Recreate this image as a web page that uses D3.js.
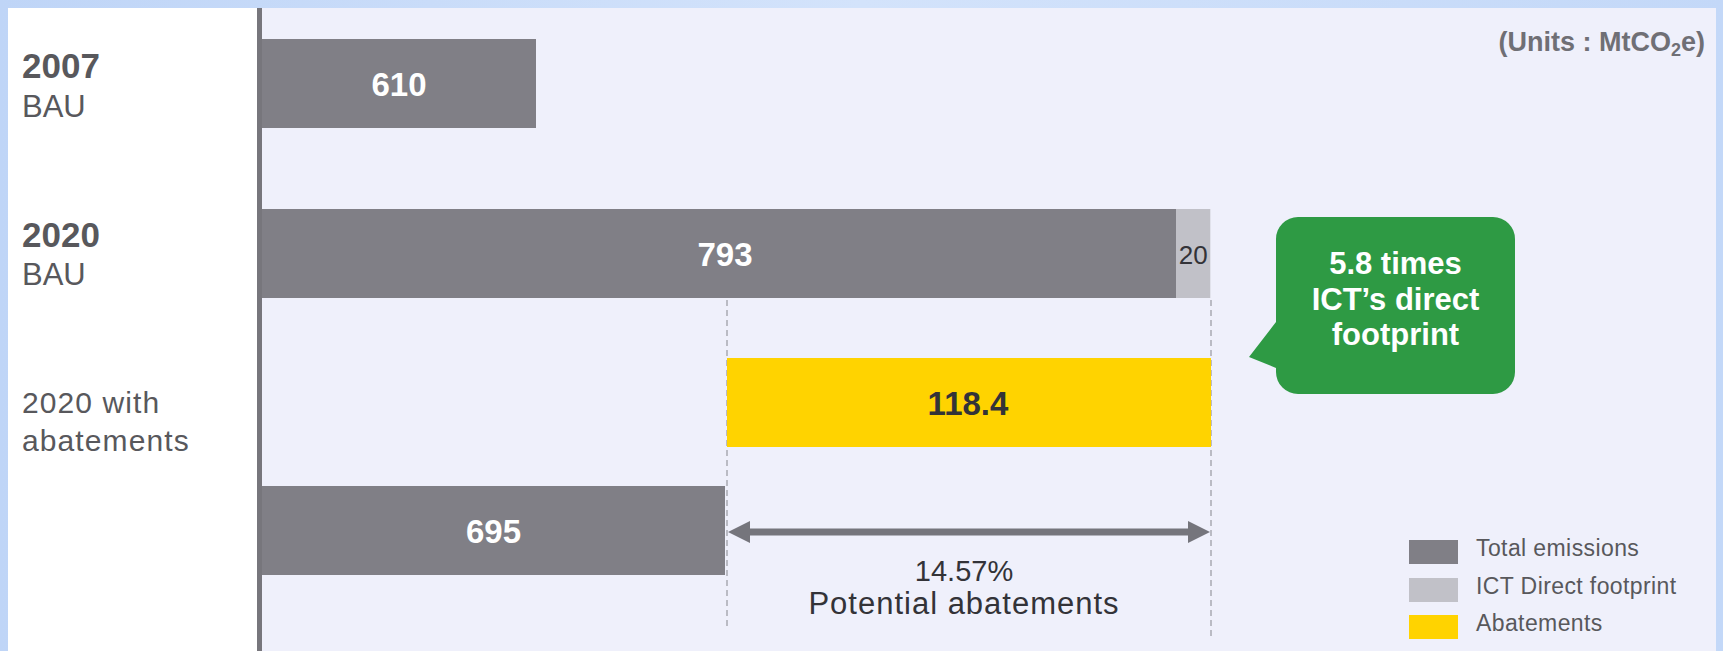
<!DOCTYPE html>
<html><head><meta charset="utf-8">
<script src="https://cdn.jsdelivr.net/npm/d3@7"></script>
<style>html,body{margin:0;padding:0;background:#c8dcf8;overflow:hidden}</style>
</head><body><svg id="chart" width="1723" height="651"></svg>
<script>
// ---- data ----
const rowKeys = ["2007 BAU", "2020 BAU", "Abatements", "2020 with abatements"];
const totalEmissions = [610, 793, 0, 695];
const ictDirect = [0, 20, 0, 0];
const abatementValues = [0, 0, 118.4, 0];
const abatementBase = 695;
const categoryLines = [["2007", "BAU"], ["2020", "BAU"], ["2020 with", "abatements"]];
const potentialLabel = ["14.57%", "Potential abatements"];
const calloutLines = ["5.8 times", "ICT\u2019s direct", "footprint"];
const legendLabels = ["Total emissions", "ICT Direct footprint", "Abatements"];
const unitsLabel = ["(Units : MtCO", "2", "e)"];

// ---- style ----
const W = 1723, H = 651;
const C = { frame: "#c8dcf8", label: "#ffffff", plot: "#eff0fb", axis: "#77767c",
  total: "#807f86", ict: "#c1c1c8", abate: "#ffd300", text: "#58585c", dark: "#333338",
  green: "#2e9a44", dash: "#a9a9b2", arrow: "#75757c" };
const FONT = "'Liberation Sans', Arial, Helvetica, sans-serif";

const svg = d3.select("#chart").attr("font-family", FONT);

// background frame & panels
const grad = svg.append("defs").append("linearGradient").attr("id", "fr").attr("x1", 0).attr("x2", 1);
grad.append("stop").attr("offset", 0).attr("stop-color", "#bfd5f7");
grad.append("stop").attr("offset", 0.5).attr("stop-color", "#d3e3fb");
grad.append("stop").attr("offset", 1).attr("stop-color", "#c3d8f8");
svg.append("rect").attr("width", W).attr("height", H).attr("fill", "url(#fr)");
svg.append("rect").attr("x", 8).attr("y", 8).attr("width", 250).attr("height", H - 8).attr("fill", C.label);
svg.append("rect").attr("x", 258).attr("y", 8).attr("width", 1716 - 258).attr("height", H - 8).attr("fill", C.plot);

// ---- scales ----
// schematic (not-to-scale) value axis: piecewise linear through the chart's own totals
const stops = [0, totalEmissions[0], abatementBase, totalEmissions[1], abatementBase + abatementValues[2]];
const x = d3.scaleLinear().domain(stops).range([262, 536, 725, 1176, 1211]);
const y = d3.scaleOrdinal().domain(rowKeys).range([39, 209, 358, 486]);
const bh = 89;

// axis line
svg.append("line").attr("x1", 259.5).attr("x2", 259.5).attr("y1", 8).attr("y2", H)
  .attr("stroke", C.axis).attr("stroke-width", 5);

const rows = rowKeys.map((k, i) => ({ key: k, total: totalEmissions[i], ict: ictDirect[i], abate: abatementValues[i] }));

// dashed guide lines
const xl = x(abatementBase) + 2, xr = x(abatementBase + abatementValues[2]);
svg.append("line").attr("x1", xl).attr("x2", xl).attr("y1", y(rowKeys[1]) + bh + 2).attr("y2", 630)
  .attr("stroke", C.dash).attr("stroke-width", 1.5).attr("stroke-dasharray", "6,4");
svg.append("line").attr("x1", xr).attr("x2", xr).attr("y1", y(rowKeys[1]) + bh + 2).attr("y2", 640)
  .attr("stroke", C.dash).attr("stroke-width", 1.5).attr("stroke-dasharray", "6,4");

// bars
const g = svg.append("g");
g.selectAll("rect.total").data(rows.filter(d => d.total > 0)).join("rect").attr("class", "total")
  .attr("x", x(0)).attr("y", d => y(d.key)).attr("width", d => x(d.total) - x(0)).attr("height", bh)
  .attr("fill", C.total);
g.selectAll("rect.ict").data(rows.filter(d => d.ict > 0)).join("rect").attr("class", "ict")
  .attr("x", d => x(d.total)).attr("y", d => y(d.key)).attr("width", d => x(d.total + d.ict) - x(d.total)).attr("height", bh)
  .attr("fill", C.ict);
g.selectAll("rect.abate").data(rows.filter(d => d.abate > 0)).join("rect").attr("class", "abate")
  .attr("x", x(abatementBase) + 2).attr("y", d => y(d.key)).attr("width", d => x(abatementBase + d.abate) - x(abatementBase) - 2).attr("height", bh)
  .attr("fill", C.abate);

// bar labels
g.selectAll("text.tl").data(rows.filter(d => d.total > 0)).join("text").attr("class", "tl")
  .attr("x", d => (x(0) + x(d.total)) / 2 + (d.ict > 0 ? 6 : 0)).attr("y", d => y(d.key) + bh / 2 + 12)
  .attr("text-anchor", "middle").attr("font-size", 33).attr("font-weight", "bold").attr("fill", "#fff")
  .text(d => d3.format("d")(d.total));
g.selectAll("text.il").data(rows.filter(d => d.ict > 0)).join("text").attr("class", "il")
  .attr("x", d => (x(d.total) + x(d.total + d.ict)) / 2).attr("y", d => y(d.key) + bh / 2 + 10)
  .attr("text-anchor", "middle").attr("font-size", 26).attr("fill", C.dark)
  .text(d => d.ict);
g.selectAll("text.al").data(rows.filter(d => d.abate > 0)).join("text").attr("class", "al")
  .attr("x", d => (x(abatementBase) + x(abatementBase + d.abate)) / 2).attr("y", d => y(d.key) + bh / 2 + 12)
  .attr("text-anchor", "middle").attr("font-size", 33).attr("font-weight", "bold").attr("fill", C.dark)
  .text(d => d.abate);

// category labels
const catAnchor = [y(rowKeys[0]), y(rowKeys[1]), y(rowKeys[2])];
const catOff = [[39, 78], [38, 76], [55, 93]];
categoryLines.forEach((lines, i) => {
  lines.forEach((t, j) => {
    const bold = i < 2 && j === 0;
    svg.append("text").attr("x", 22).attr("y", catAnchor[i] + catOff[i][j])
      .attr("font-size", bold ? 35 : (i < 2 ? 31 : 30))
      .attr("font-weight", bold ? "bold" : "normal")
      .attr("letter-spacing", i === 2 ? 1.1 : 0)
      .attr("fill", C.text).text(t);
  });
});

// double arrow
const ay = y(rowKeys[3]) + 46;
const aL = x(abatementBase) + 3, aR = xr - 1, ah = 22, aw = 11;
svg.append("line").attr("x1", aL + ah - 2).attr("x2", aR - ah + 2).attr("y1", ay).attr("y2", ay)
  .attr("stroke", C.arrow).attr("stroke-width", 7);
svg.append("path").attr("d", `M${aL},${ay}L${aL + ah},${ay - aw}L${aL + ah},${ay + aw}Z`).attr("fill", C.arrow);
svg.append("path").attr("d", `M${aR},${ay}L${aR - ah},${ay - aw}L${aR - ah},${ay + aw}Z`).attr("fill", C.arrow);

const mid = (aL + aR) / 2 - 5;
svg.append("text").attr("x", mid).attr("y", 581).attr("text-anchor", "middle")
  .attr("font-size", 29).attr("fill", C.dark).text(potentialLabel[0]);
svg.append("text").attr("x", mid).attr("y", 614).attr("text-anchor", "middle")
  .attr("font-size", 31).attr("letter-spacing", 1).attr("fill", C.dark).text(potentialLabel[1]);

// callout
const bx0 = 1276, bx1 = 1515, by0 = 217, by1 = 394, r = 22;
const p = d3.path();
p.moveTo(bx0 + r, by0); p.lineTo(bx1 - r, by0); p.arcTo(bx1, by0, bx1, by0 + r, r);
p.lineTo(bx1, by1 - r); p.arcTo(bx1, by1, bx1 - r, by1, r);
p.lineTo(bx0 + r, by1); p.arcTo(bx0, by1, bx0, by1 - r, r);
p.lineTo(bx0, 368); p.lineTo(1249, 357); p.lineTo(bx0, 322);
p.lineTo(bx0, by0 + r); p.arcTo(bx0, by0, bx0 + r, by0, r); p.closePath();
svg.append("path").attr("d", p.toString()).attr("fill", C.green);
const cy = [274, 310, 345];
calloutLines.forEach((t, i) => {
  svg.append("text").attr("x", (bx0 + bx1) / 2).attr("y", cy[i]).attr("text-anchor", "middle")
    .attr("font-size", 31).attr("font-weight", "bold").attr("fill", "#fff").text(t);
});

// units
const ut = svg.append("text").attr("x", 1705).attr("y", 51).attr("text-anchor", "end")
  .attr("font-size", 27).attr("font-weight", "bold").attr("fill", "#6f6f75");
ut.append("tspan").text(unitsLabel[0]);
ut.append("tspan").attr("font-size", 18).attr("dy", 5).text(unitsLabel[1]);
ut.append("tspan").attr("dy", -5).text(unitsLabel[2]);

// legend
const legColors = [C.total, C.ict, C.abate];
const legY = [540, 578, 615];
const lg = svg.append("g");
lg.selectAll("rect").data(legendLabels).join("rect")
  .attr("x", 1409).attr("y", (d, i) => legY[i]).attr("width", 49).attr("height", 24)
  .attr("fill", (d, i) => legColors[i]);
lg.selectAll("text").data(legendLabels).join("text")
  .attr("x", 1476).attr("y", (d, i) => legY[i] + 16).attr("font-size", 23).attr("letter-spacing", 0.4)
  .attr("fill", "#58585c")
  .text(d => d);
</script></body></html>
